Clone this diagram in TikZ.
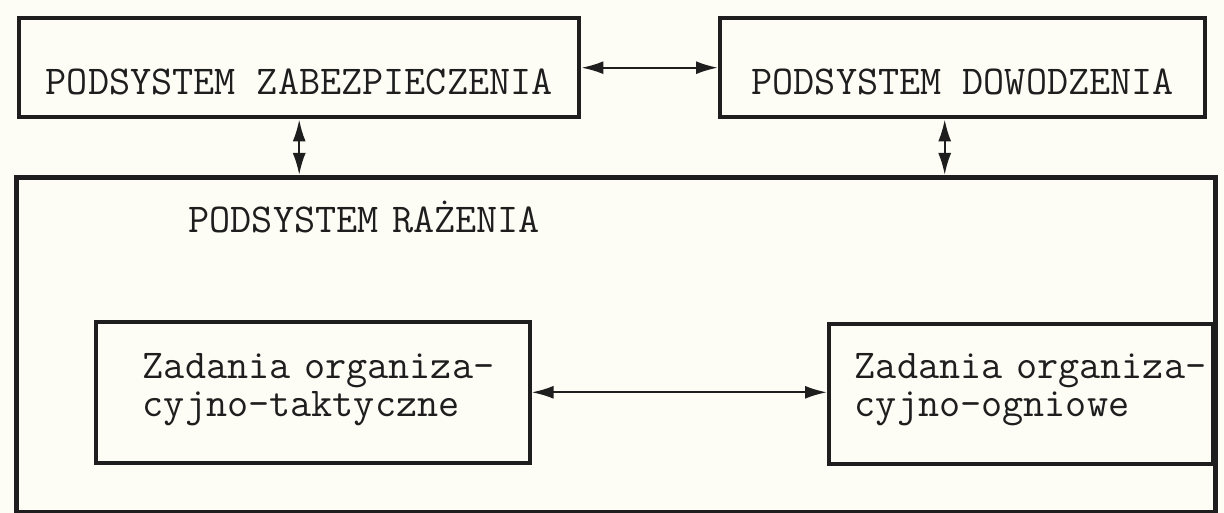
\documentclass[tikz,border=0pt]{standalone}
\usetikzlibrary{arrows.meta}
\definecolor{paper}{RGB}{253,253,246}
\definecolor{ink}{RGB}{30,30,30}
\begin{document}
\begin{tikzpicture}[x=0.5pt,y=-0.5pt,
    >={Latex[length=11pt,width=6.5pt]},
    blok/.style={draw=ink, text=ink, line width=2.2pt, inner ysep=0pt, anchor=north west,
      font=\fontsize{20.5pt}{18.8pt}\selectfont\ttfamily},
    wew/.style={blok, line width=1.8pt, align=left},
    lacz/.style={<->, draw=ink, line width=1.1pt}]
    \fill[paper] (0,0) rectangle (1224,513);
    \useasboundingbox (0,0) rectangle (1224,513);

    \node[blok, minimum width=280pt, text height=38pt, text depth=11.5pt] (zab) at (17,16)
      {PODSYSTEM ZABEZPIECZENIA};
    \node[blok, minimum width=242.5pt, text height=38pt, text depth=11.5pt] (dow) at (718,16)
      {PODSYSTEM DOWODZENIA};
    \node[blok, line width=2.6pt, align=left, text width=427.5pt, inner xsep=86pt,
      text height=27.5pt, text depth=140pt] (raz) at (14,175)
      {PODSYSTEM RAŻENIA};
    \node[wew, text width=170pt, inner xsep=23.5pt, text height=28.5pt, text depth=42pt] (tak) at (94,320)
      {Zadania~organiza-\\cyjno-taktyczne};
    \node[wew, text width=166pt, inner xsep=13pt, text height=27.5pt, text depth=42.5pt] (ogn) at (827,322)
      {Zadania~organiza-\\cyjno-ogniowe};

    \draw[lacz] (zab.east) -- (dow.west);
    \draw[lacz] (zab.south) -- (zab.south |- raz.north);
    \draw[lacz] ([xshift=-9pt]dow.south) -- ([xshift=-9pt]dow.south |- raz.north);
    \draw[lacz] (tak.east) -- (tak.east -| ogn.west);
  \end{tikzpicture}
\end{document}
